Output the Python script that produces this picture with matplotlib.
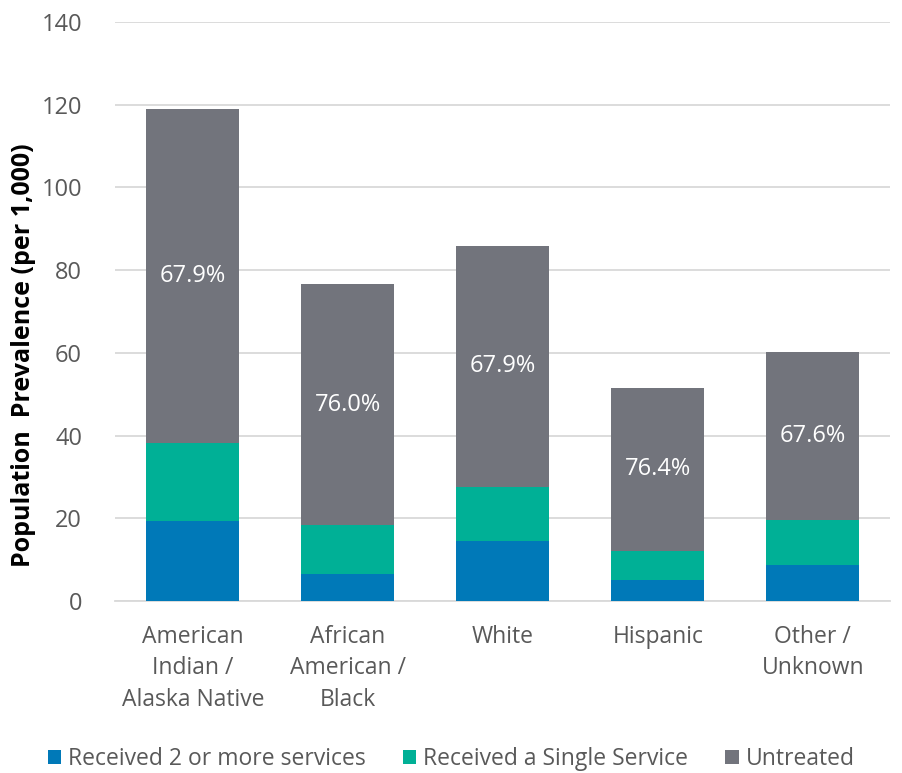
import matplotlib.pyplot as plt
import numpy as np

plt.rcParams['font.family'] = ['Open Sans', 'DejaVu Sans']

groups = ["American\nIndian /\nAlaska Native", "African\nAmerican /\nBlack", "White", "Hispanic", "Other /\nUnknown"]
multi = [19.3, 6.6, 14.4, 5.1, 8.8]
single = [18.8, 11.7, 13.2, 7.1, 10.7]
untreated = [80.8, 58.3, 58.3, 39.2, 40.6]
pct_labels = ["67.9%", "76.0%", "67.9%", "76.4%", "67.6%"]

c_multi = "#0079B8"
c_single = "#00B096"
c_untr = "#72747C"

fig = plt.figure(figsize=(9.02, 7.73), dpi=100)
ax = fig.add_axes([0.128, 0.2225, 0.859, 0.749])

x = np.arange(len(groups))
w = 0.6
multi = np.array(multi)
single = np.array(single)
untreated = np.array(untreated)

ax.bar(x, multi, w, color=c_multi, label="Received 2 or more services", zorder=3)
ax.bar(x, single, w, bottom=multi, color=c_single, label="Received a Single Service", zorder=3)
ax.bar(x, untreated, w, bottom=multi + single, color=c_untr, label="Untreated", zorder=3)

for i in range(len(x)):
    mid = multi[i] + single[i] + untreated[i] / 2
    ax.text(x[i], mid, pct_labels[i], ha='center', va='center', color='white', fontsize=17, zorder=4)

ax.set_ylim(0, 140)
ax.set_xlim(-0.5, len(groups) - 0.5)
ax.set_yticks(np.arange(0, 141, 20))
ax.set_xticks(x)
ax.set_xticklabels(groups, fontsize=16.5, color='#595959', linespacing=1.42)
ax.tick_params(axis='y', labelsize=17, labelcolor='#595959', length=0, pad=24)
ax.tick_params(axis='x', length=0, pad=17)
ax.yaxis.grid(True, color='#D9D9D9', linewidth=1.3, zorder=0)
for s in ['top', 'right', 'left']:
    ax.spines[s].set_visible(False)
ax.spines['bottom'].set_color('#D9D9D9')
ax.spines['bottom'].set_linewidth(1.3)

ax.set_ylabel("Population  Prevalence (per 1,000)", fontsize=18, fontweight='bold')
ax.yaxis.set_label_coords(-0.102, 0.425)

fig.legend(loc='lower center', ncol=3, frameon=False, fontsize=16.5, handlelength=0.6, handleheight=0.6,
           handletextpad=0.3, columnspacing=1.6, bbox_to_anchor=(0.5, -0.024), labelcolor='#595959')

fig.savefig("out.png", dpi=100)
